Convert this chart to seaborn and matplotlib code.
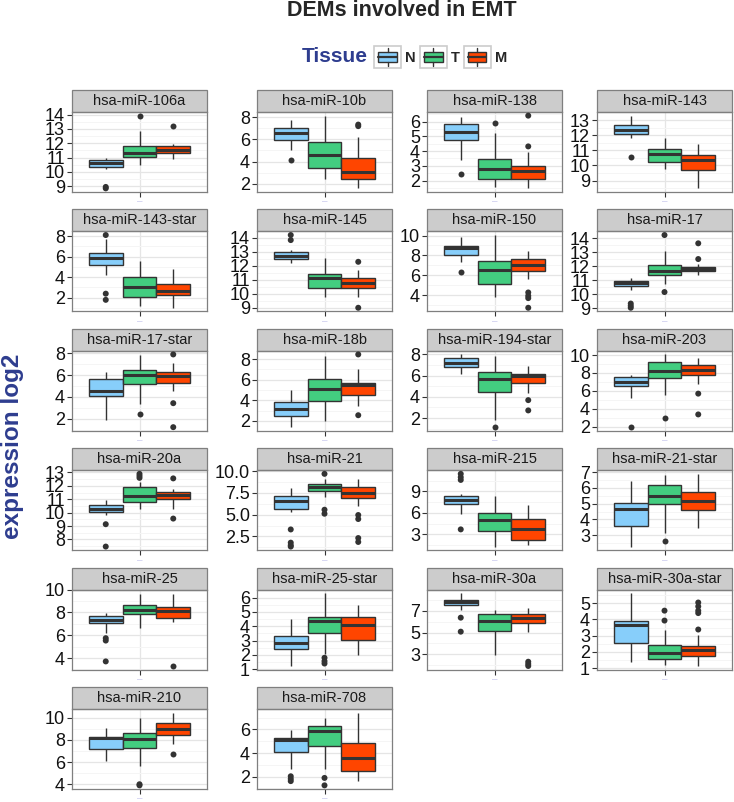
import numpy as np
import pandas as pd
import seaborn as sns
import matplotlib.pyplot as plt
from matplotlib.patches import Rectangle, Patch
from matplotlib.lines import Line2D
from matplotlib.legend_handler import HandlerBase

# ---- data ----
mirnas = ["hsa-miR-106a", "hsa-miR-10b", "hsa-miR-138", "hsa-miR-143",
          "hsa-miR-143-star", "hsa-miR-145", "hsa-miR-150", "hsa-miR-17",
          "hsa-miR-17-star", "hsa-miR-18b", "hsa-miR-194-star", "hsa-miR-203",
          "hsa-miR-20a", "hsa-miR-21", "hsa-miR-215", "hsa-miR-21-star",
          "hsa-miR-25", "hsa-miR-25-star", "hsa-miR-30a", "hsa-miR-30a-star",
          "hsa-miR-210", "hsa-miR-708"]
tissues = ["N", "T", "M"]
colors = ["#87CEFA", "#43CD80", "#FF4500"]

# lower whisker, q1, median, q3, upper whisker for each tissue
N_lo  = [10.17, 5.00, 3.43, 11.82, 4.23, 12.23, 7.37, 10.34, 1.90, 1.39, 6.11, 5.25, 9.80, 5.27, 5.82, 2.28, 6.17, 1.23, 7.09, 1.40, 6.07, 2.63]
N_q1  = [10.35, 5.99, 4.74, 12.11, 5.23, 12.46, 8.00, 10.59, 4.10, 2.45, 6.77, 6.56, 10.03, 5.64, 7.20, 3.59, 7.04, 2.38, 7.55, 2.58, 7.20, 4.05]
N_med = [10.60, 6.62, 5.33, 12.33, 5.83, 12.69, 8.70, 10.80, 4.52, 3.13, 7.18, 7.05, 10.30, 6.55, 7.85, 4.65, 7.37, 2.81, 7.80, 3.63, 8.15, 5.10]
N_q3  = [10.83, 7.04, 5.84, 12.67, 6.33, 12.97, 8.97, 10.99, 5.62, 3.84, 7.62, 7.57, 10.54, 7.16, 8.35, 5.03, 7.70, 3.32, 8.02, 3.93, 8.30, 5.23]
N_hi  = [10.95, 7.76, 6.34, 13.29, 7.75, 13.15, 9.83, 11.16, 6.29, 5.03, 8.00, 7.76, 10.91, 8.03, 8.68, 6.45, 7.97, 4.47, 8.63, 5.61, 9.11, 5.97]

T_lo  = [10.45, 2.44, 1.56, 9.76, 1.17, 9.78, 3.77, 10.71, 3.34, 1.97, 1.80, 5.55, 10.25, 7.00, 1.29, 3.13, 6.66, 2.07, 2.94, 1.20, 5.68, 2.68]
T_q1  = [11.04, 3.44, 2.11, 10.22, 2.07, 10.38, 5.17, 11.39, 5.16, 3.90, 4.50, 7.46, 10.79, 7.69, 3.46, 4.97, 7.83, 3.56, 5.15, 1.55, 7.26, 4.60]
T_med = [11.32, 4.60, 2.80, 10.73, 3.07, 11.12, 6.53, 11.65, 5.99, 5.10, 5.67, 8.24, 11.28, 8.22, 4.99, 5.50, 8.20, 4.36, 6.11, 1.95, 8.10, 5.84]
T_q3  = [11.84, 5.72, 3.47, 11.11, 4.00, 11.40, 7.43, 12.12, 6.48, 6.06, 6.36, 9.18, 11.89, 8.52, 6.00, 6.20, 8.64, 4.63, 6.69, 2.41, 8.66, 6.27]
T_hi  = [12.85, 8.15, 5.20, 11.82, 5.57, 12.55, 10.05, 13.10, 7.88, 8.26, 7.81, 10.07, 12.26, 9.09, 8.35, 6.83, 9.65, 6.30, 7.09, 3.36, 9.94, 6.93]

M_lo  = [10.90, 1.57, 1.47, 8.49, 1.03, 9.78, 5.67, 11.39, 4.55, 3.48, 4.32, 6.75, 10.25, 5.95, 1.48, 3.44, 7.18, 2.00, 5.09, 1.14, 7.65, 1.62]
M_q1  = [11.34, 2.44, 2.11, 9.69, 2.23, 10.38, 6.43, 11.70, 5.32, 4.52, 5.26, 7.76, 10.99, 6.93, 2.22, 4.61, 7.53, 3.07, 5.86, 1.77, 8.45, 2.44]
M_med = [11.55, 3.05, 2.67, 10.38, 2.67, 10.78, 7.00, 11.84, 5.93, 5.45, 5.92, 8.36, 11.33, 7.54, 3.69, 5.18, 8.10, 4.07, 6.32, 2.11, 8.99, 3.56]
M_q3  = [11.78, 4.31, 2.97, 10.71, 3.33, 11.12, 7.67, 11.98, 6.29, 5.68, 6.11, 8.88, 11.57, 8.18, 5.08, 5.71, 8.49, 4.63, 6.69, 2.37, 9.49, 4.88]
M_hi  = [11.98, 6.20, 3.93, 11.44, 4.80, 11.70, 8.43, 12.16, 7.09, 7.03, 6.93, 9.63, 11.77, 9.05, 7.15, 6.89, 9.65, 5.50, 7.31, 3.02, 10.45, 7.42]

# outliers
N_out = [[8.85, 8.95], [4.13], [2.44], [10.56], [8.1, 2.4, 1.8], [13.83, 14.19],
         [6.33], [9.35, 9.19, 9.05], [], [], [], [1.96], [9.14, 7.47],
         [3.3, 1.78, 1.48, 1.33], [11.45, 10.98, 10.6, 3.69], [], [5.74, 5.53, 3.7],
         [], [6.38, 5.09], [], [], [2.03, 1.81, 1.62]]
T_out = [[13.93], [], [5.89], [], [], [], [], [14.23, 10.17], [2.42], [], [1.14],
         [2.93], [12.6, 12.75, 12.9], [9.7, 5.57, 5.11], [], [2.66], [],
         [1.8, 1.57, 1.4], [], [4.54, 3.93], [3.9, 4.0], [1.89, 1.26]]
M_out = [[13.2], [7.2, 7.34], [4.32, 6.41], [], [], [12.28, 9.0],
         [4.27, 3.93, 3.7, 2.73], [12.52, 13.64], [7.9, 3.43, 1.23], [8.45, 2.55],
         [3.69, 2.72], [5.7, 3.38], [12.56, 9.56], [4.96, 4.5, 2.31, 1.86], [], [],
         [3.3], [], [2.32, 2.11, 1.93], [3.38, 4.39, 4.54, 4.8, 5.04], [6.76], []]

yticks = [[9, 10, 11, 12, 13, 14], [2, 4, 6, 8], [2, 3, 4, 5, 6], [9, 10, 11, 12, 13],
          [2, 4, 6, 8], [9, 10, 11, 12, 13, 14], [4, 6, 8, 10], [9, 10, 11, 12, 13, 14],
          [2, 4, 6, 8], [2, 4, 6, 8], [2, 4, 6, 8], [2, 4, 6, 8, 10],
          [8, 9, 10, 11, 12, 13], [2.5, 5.0, 7.5, 10.0], [3, 6, 9], [3, 4, 5, 6, 7],
          [4, 6, 8, 10], [1, 2, 3, 4, 5, 6], [3, 5, 7], [1, 2, 3, 4, 5],
          [4, 6, 8, 10], [2, 4, 6]]

# ---- long tables for seaborn ----
stats = {"N": (N_lo, N_q1, N_med, N_q3, N_hi, N_out),
         "T": (T_lo, T_q1, T_med, T_q3, T_hi, T_out),
         "M": (M_lo, M_q1, M_med, M_q3, M_hi, M_out)}
box_rows, out_rows = [], []
for i, mir in enumerate(mirnas):
    for t in tissues:
        lo, q1, med, q3, hi, out = stats[t]
        # a sample whose quartiles and extremes equal the read-off values
        vals = [lo[i]] + [q1[i]] * 20 + [med[i]] * 20 + [q3[i]] * 20 + [hi[i]]
        for v in vals:
            box_rows.append((mir, t, "", v))
        for v in out[i]:
            out_rows.append((mir, t, "", v))
box_df = pd.DataFrame(box_rows, columns=["mirna", "Tissue", "grp", "value"])
out_df = pd.DataFrame(out_rows, columns=["mirna", "Tissue", "grp", "value"])

# ---- figure ----
sns.set_theme(style="white")
plt.rcParams["font.family"] = ["Liberation Sans", "DejaVu Sans"]

W, H = 734, 802
fig = plt.figure(figsize=(W / 100, H / 100), dpi=100)
col_left = [72, 257, 427, 597]
PW, PH, SH = 135, 80, 22
pal = dict(zip(tissues, colors))
dark = {t: "#333333" for t in tissues}

for i, mir in enumerate(mirnas):
    r, c = divmod(i, 4)
    top = 90 + 119.4 * r + SH
    ax = fig.add_axes([col_left[c] / W, 1 - (top + PH) / H, PW / W, PH / H])
    sub = box_df[box_df.mirna == mir]
    sns.boxplot(data=sub, x="grp", y="value", hue="Tissue", hue_order=tissues,
                palette=pal, saturation=1, width=0.8, gap=0, whis=(0, 100),
                showcaps=False, showfliers=False, linecolor="#333333", linewidth=1.0,
                medianprops=dict(color="#333333", linewidth=2.2), legend=False, ax=ax)
    fl = out_df[out_df.mirna == mir]
    if len(fl):
        sns.stripplot(data=fl, x="grp", y="value", hue="Tissue", hue_order=tissues,
                      palette=dark, dodge=True, jitter=False, size=4.3, linewidth=0,
                      legend=False, ax=ax)

    allv = pd.concat([sub.value, fl.value])
    lo, hi = allv.min(), allv.max()
    pad = 0.05 * (hi - lo)
    ax.set_ylim(lo - pad, hi + pad)
    ax.set_xlim(-0.5333, 0.5333)

    ticks = yticks[i]
    fmt = "%.1f" if any(t != int(t) for t in ticks) else "%d"
    ax.set_yticks(ticks)
    ax.set_yticklabels([fmt % t for t in ticks])
    step = ticks[1] - ticks[0]
    minor = [t + step / 2 for t in [ticks[0] - step] + ticks]
    ax.set_yticks([m for m in minor if lo - pad < m < hi + pad], minor=True)

    ax.set_axisbelow(True)
    ax.yaxis.grid(True, which="major", color="#E5E5E5", lw=0.9)
    ax.yaxis.grid(True, which="minor", color="#F5F5F5", lw=0.7)
    ax.xaxis.grid(True, which="major", color="#E5E5E5", lw=0.9)
    for s in ax.spines.values():
        s.set_color("#7F7F7F")
        s.set_linewidth(0.9)
    ax.set_xlabel("")
    ax.set_ylabel("")
    ax.set_xticks([0])
    ax.set_xticklabels(["\u2014"], fontsize=4, color="#9999DD")
    ax.tick_params(axis="y", which="major", length=3.5, width=0.8, color="#333333",
                   labelsize=13, labelcolor="#111111", pad=1.5, left=True)
    ax.tick_params(axis="x", which="major", length=3.5, width=0.8, color="#333333",
                   pad=2, bottom=True)
    ax.tick_params(which="minor", length=0)

    # facet strip
    ax.add_patch(Rectangle((0, 1), 1, SH / PH, transform=ax.transAxes, clip_on=False,
                           fc="#CCCCCC", ec="#7F7F7F", lw=0.9))
    ax.text(0.5, 1 + SH / PH / 2, mir, transform=ax.transAxes, ha="center",
            va="center", fontsize=10.5, color="#1A1A1A")


# legend with boxplot glyphs
class BoxKey(HandlerBase):
    def create_artists(self, legend, orig_handle, xdescent, ydescent, width, height,
                       fontsize, trans):
        x0, y0 = -xdescent, -ydescent
        fc = orig_handle.get_facecolor()
        bg = Rectangle((x0, y0), width, height, fc="white", ec="#CCCCCC", lw=1.2,
                       transform=trans)
        box = Rectangle((x0 + 0.15 * width, y0 + 0.25 * height), 0.7 * width,
                        0.5 * height, fc=fc, ec="#333333", lw=1, transform=trans)
        med = Line2D([x0 + 0.15 * width, x0 + 0.85 * width], [y0 + 0.5 * height] * 2,
                     color="#333333", lw=1.6, transform=trans)
        w1 = Line2D([x0 + 0.5 * width] * 2, [y0 + 0.06 * height, y0 + 0.25 * height],
                    color="#333333", lw=1, transform=trans)
        w2 = Line2D([x0 + 0.5 * width] * 2, [y0 + 0.75 * height, y0 + 0.94 * height],
                    color="#333333", lw=1, transform=trans)
        return [bg, box, med, w1, w2]


handles = [Patch(facecolor=c) for c in colors]
fs = 10.5
key = 27 / (fs * 100 / 72)
fig.legend(handles, tissues, handler_map={Patch: BoxKey()}, ncol=3,
           loc="center left", bbox_to_anchor=(374 / W, 1 - 57 / H), frameon=False,
           prop={"weight": "bold", "size": fs}, handlelength=key, handleheight=key,
           handletextpad=0.3, columnspacing=0.25, borderpad=0, borderaxespad=0)
fig.text(368 / W, 1 - 57 / H, "Tissue", ha="right", va="center", fontsize=15,
         fontweight="bold", color="#2E3D8F")

fig.text(402 / W, 1 - 11 / H, "DEMs involved in EMT", ha="center", va="center",
         fontsize=15.5, fontweight="bold")
fig.text(13 / W, 1 - 446 / H, "expression log2", ha="center", va="center",
         rotation=90, fontsize=17.5, fontweight="bold", color="#2E3D8F")

fig.savefig("out.png", dpi=100)
